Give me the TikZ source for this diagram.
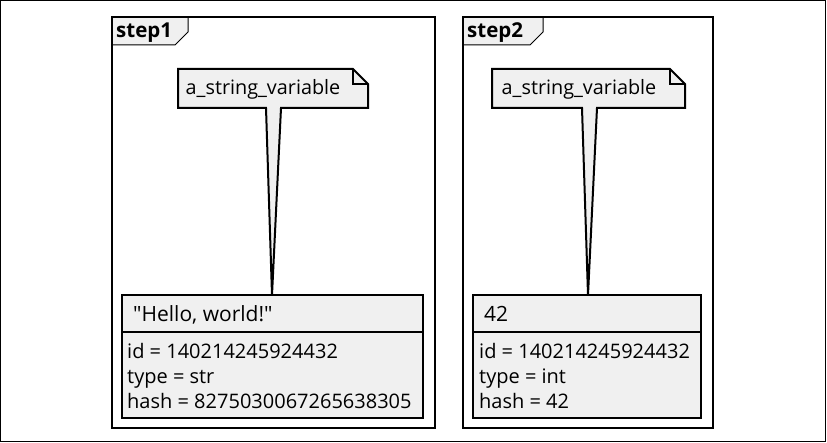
\documentclass[tikz,border=0pt]{standalone}
\usepackage{fontspec}
\setmainfont{Open Sans}
\newfontfamily\plainfont{Open Sans}
\begin{document}
\begin{tikzpicture}[x=1pt,y=-1pt,
  framebox/.style={draw=black,line width=2.2pt},
  tabtext/.style={font=\fontsize{20.5}{24}\selectfont\bfseries,anchor=base west,inner sep=0pt},
  notetext/.style={font=\fontsize{19.8}{23}\selectfont,anchor=base,inner sep=0pt},
  headtext/.style={font=\plainfont\fontsize{21}{24}\selectfont,anchor=base west,inner sep=0pt},
  bodytext/.style={font=\fontsize{20}{24}\selectfont,anchor=base west,inner sep=0pt},
  shade/.style={fill=gray!12},
  boxline/.style={draw=black,line width=2pt},
]
\useasboundingbox (0,0) rectangle (827,443);
\draw[line width=1.2pt] (0.6,0.6) rectangle (825.4,441.6);

% ---------- step1 ----------
\draw[framebox,fill=white] (112,17) rectangle (435,428);
\draw[shade,draw=black,line width=1pt] (112,17) -- (188,17) -- (188,32) -- (175,45) -- (112,45) -- cycle;
\draw[framebox] (112,17) rectangle (435,428);
\node[tabtext] (t1) at (116,38) {step1};

\coordinate (o1) at (272,295);
\draw[boxline,shade,line join=miter]
  (178,69) -- (353,69) -- (368,84) -- (368,108) -- (281,108) -- (o1) -- (266,108) -- (178,108) -- cycle;
\draw[boxline,line width=1.5pt] (353,69) -- (353,84) -- (368,84);
\node[notetext] (n1) at (263,95) {a\_string\_variable};

\draw[boxline,shade] (122,295) rectangle (423,418);
\draw[boxline] (122,332) -- (423,332);
\node[headtext] (h1) at (133,322) {"Hello, world!"};
\node[bodytext] (a1) at (127,359) {id = 140214245924432};
\node[bodytext] (b1) at (127,384) {type = str};
\node[bodytext] (c1) at (127,408) {hash = 8275030067265638305};

% ---------- step2 ----------
\draw[framebox,fill=white] (463,17) rectangle (713,428);
\draw[shade,draw=black,line width=1pt] (463,17) -- (543,17) -- (543,32) -- (530,45) -- (463,45) -- cycle;
\draw[framebox] (463,17) rectangle (713,428);
\node[tabtext] (t2) at (467,38) {step2};

\coordinate (o2) at (588,295);
\draw[boxline,shade,line join=miter]
  (492,69) -- (670,69) -- (685,84) -- (685,108) -- (597,108) -- (o2) -- (582,108) -- (492,108) -- cycle;
\draw[boxline,line width=1.5pt] (670,69) -- (670,84) -- (685,84);
\node[notetext] (n2) at (579,95) {a\_string\_variable};

\draw[boxline,shade] (473,295) rectangle (701,418);
\draw[boxline] (473,332) -- (701,332);
\node[headtext] (h2) at (484,322) {42};
\node[bodytext] (a2) at (479,359) {id = 140214245924432};
\node[bodytext] (b2) at (479,384) {type = int};
\node[bodytext] (c2) at (479,408) {hash = 42};
\end{tikzpicture}
\end{document}
